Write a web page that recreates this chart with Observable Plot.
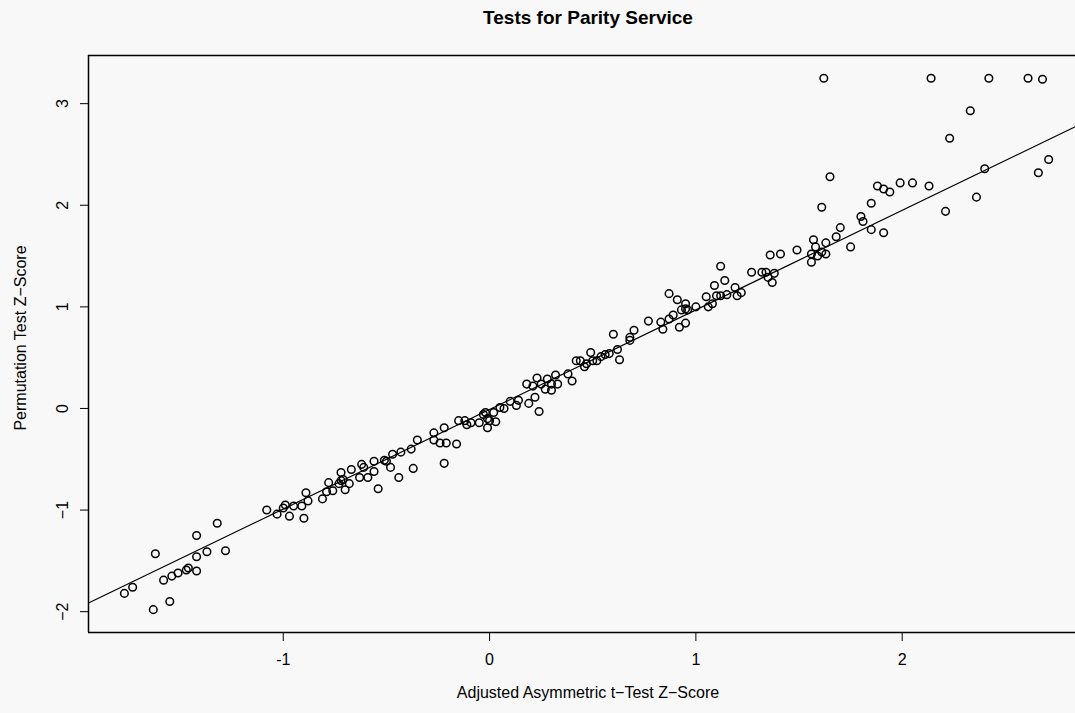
<!DOCTYPE html>
<html><head><meta charset="utf-8">
<script src="https://cdn.jsdelivr.net/npm/d3@7"></script>
<script src="https://cdn.jsdelivr.net/npm/@observablehq/plot@0.6"></script>
<style>
html,body{margin:0;padding:0;background:#f8f8f8;overflow:hidden}
#title{height:38px;position:relative;font-family:"Liberation Sans",Arial,sans-serif}
#title span{position:absolute;left:101px;width:974px;text-align:center;top:8px;font-size:19px;font-weight:bold;line-height:19px;color:#000}
#chart svg{display:block}
#chart svg [aria-label$="tick label"]{font-size:16px}
</style></head><body>
<div id="title"><span>Tests for Parity Service</span></div>
<div id="chart"></div>
<script>
const chartTitle = "Tests for Parity Service";
const xTitle = "Adjusted Asymmetric t\u2212Test Z\u2212Score";
const yTitle = "Permutation Test Z\u2212Score";
const xTicks = [-1, 0, 1, 2];
const yTicks = [-2, -1, 0, 1, 2, 3];
const xDomain = [-1.944, 2.84];
const yDomain = [-2.205, 3.474];
const lineIntercept = -0.01;
const lineSlope = 0.98;

const ptX = [-1.77,-1.73,-1.63,-1.62,-1.58,-1.55,-1.54,-1.51,-1.47,-1.46,-1.42,-1.42,-1.42,-1.37,-1.32,-1.28,
-1.08,-1.03,-1.00,-0.99,-0.97,-0.95,-0.91,-0.90,-0.89,-0.88,-0.81,-0.79,-0.78,-0.76,
-0.73,-0.72,-0.71,-0.72,-0.70,-0.68,-0.67,-0.63,-0.62,-0.61,-0.59,-0.56,-0.56,-0.54,-0.51,-0.50,-0.48,-0.47,-0.44,-0.43,
-0.38,-0.37,-0.35,-0.27,-0.27,-0.24,-0.22,-0.22,-0.21,-0.16,-0.15,-0.12,-0.11,-0.09,-0.05,-0.03,-0.01,0.00,0.02,0.03,0.05,-0.02,
-0.01,0.07,0.10,0.13,0.14,0.19,0.22,0.24,0.18,0.21,0.23,0.25,0.27,0.28,0.30,0.32,0.33,0.30,0.38,0.40,0.42,0.44,0.46,0.47,0.49,0.50,0.52,0.54,0.56,0.58,0.60,0.62,0.63,0.68,0.68,0.70,0.77,
0.83,0.84,0.87,0.87,0.89,0.91,0.92,0.93,0.95,0.95,0.95,0.96,1.00,1.05,1.06,1.08,1.09,1.10,1.12,1.12,1.14,1.15,1.19,1.20,1.22,1.27,1.32,1.34,1.35,1.37,1.38,1.36,1.41,1.49,1.56,1.56,1.57,1.58,1.59,1.61,1.63,1.63,
1.62,2.14,2.42,2.61,2.68,2.33,2.23,2.71,2.66,2.40,2.36,2.21,1.65,1.61,1.88,1.91,1.94,1.99,2.05,2.13,1.85,1.80,1.81,1.85,1.91,1.70,1.68,1.75];

const ptY = [-1.82,-1.76,-1.98,-1.43,-1.69,-1.90,-1.65,-1.62,-1.59,-1.57,-1.60,-1.46,-1.25,-1.41,-1.13,-1.40,
-1.00,-1.04,-0.98,-0.95,-1.06,-0.96,-0.96,-1.08,-0.83,-0.91,-0.89,-0.82,-0.73,-0.81,
-0.74,-0.71,-0.70,-0.63,-0.80,-0.74,-0.60,-0.68,-0.55,-0.58,-0.68,-0.62,-0.52,-0.79,-0.51,-0.52,-0.58,-0.45,-0.68,-0.43,
-0.40,-0.59,-0.31,-0.24,-0.31,-0.34,-0.19,-0.54,-0.34,-0.35,-0.12,-0.12,-0.16,-0.14,-0.14,-0.06,-0.19,-0.12,-0.04,-0.13,0.01,-0.04,
-0.10,0.00,0.07,0.03,0.08,0.05,0.11,-0.03,0.24,0.22,0.30,0.24,0.19,0.29,0.18,0.33,0.24,0.24,0.34,0.27,0.47,0.47,0.41,0.44,0.55,0.47,0.47,0.51,0.53,0.54,0.73,0.58,0.48,0.70,0.67,0.77,0.86,
0.85,0.78,0.88,1.13,0.92,1.07,0.80,0.97,0.98,1.03,0.84,0.97,1.00,1.10,1.00,1.03,1.21,1.11,1.40,1.11,1.26,1.12,1.19,1.11,1.14,1.34,1.34,1.34,1.29,1.24,1.33,1.51,1.52,1.56,1.44,1.52,1.66,1.59,1.50,1.54,1.63,1.52,
3.25,3.25,3.25,3.25,3.24,2.93,2.66,2.45,2.32,2.36,2.08,1.94,2.28,1.98,2.19,2.16,2.13,2.22,2.22,2.19,2.02,1.89,1.84,1.76,1.73,1.78,1.69,1.59];

document.querySelector("#title span").textContent = chartTitle;

const points = ptX.map((x, i) => ({x, y: ptY[i]}));
const fit = xDomain.map(x => ({x, y: lineIntercept + lineSlope * x}));
const fmtX = d => String(d);
const fmtY = d => String(d).replace("-", "\u2212");

const chart = Plot.plot({
  width: 1075,
  height: 675,
  marginTop: 17,
  marginBottom: 81,
  marginLeft: 88,
  marginRight: 0,
  style: {fontFamily: "'Liberation Sans', Arial, sans-serif", fontSize: "16px", background: "#f8f8f8", color: "#000", overflow: "visible"},
  x: {domain: xDomain},
  y: {domain: yDomain},
  marks: [
    Plot.ruleY(yDomain, {stroke: "#000", strokeWidth: 1.5}),
    Plot.ruleX([xDomain[0]], {stroke: "#000", strokeWidth: 1.5}),
    Plot.axisX(xTicks, {tickSize: 9, tickPadding: 12, tickFormat: fmtX, label: null, stroke: "#000", fill: "#000", fontSize: 16}),
    Plot.axisY(yTicks, {tickSize: 8, tickPadding: 13, tickFormat: fmtY, tickRotate: -90, label: null, stroke: "#000", fill: "#000", fontSize: 16}),
    Plot.line(fit, {x: "x", y: "y", stroke: "#000", strokeWidth: 1.2}),
    Plot.dot(points, {x: "x", y: "y", r: 3.8, stroke: "#000", strokeWidth: 1.5, fill: "none"}),
    Plot.text([xTitle], {frameAnchor: "bottom", dy: 65, dx: 6, text: d => d, fontSize: 16, fill: "#000"}),
    Plot.text([yTitle], {frameAnchor: "left", textAnchor: "middle", rotate: -90, dx: -68, dy: -6, text: d => d, fontSize: 16, fill: "#000"})
  ]
});
document.getElementById("chart").appendChild(chart);
</script></body></html>
